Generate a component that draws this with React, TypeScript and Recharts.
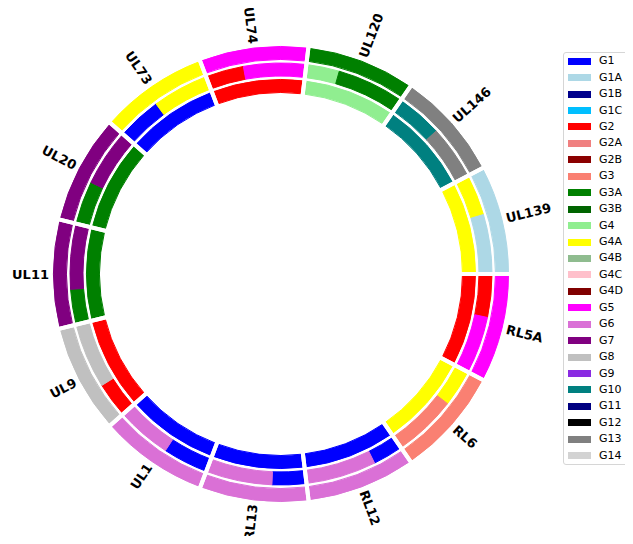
import { PieChart, Pie, Cell } from "recharts";

// segments, clockwise from the UL74/UL120 boundary
const SEGMENTS = ["UL120", "UL146", "UL139", "RL5A", "RL6", "RL12", "RL13", "UL1", "UL9", "UL11", "UL20", "UL73", "UL74"];
const INNER_GROUP = ["G4", "G10", "G4A", "G2", "G4A", "G1", "G1", "G1", "G2", "G3A", "G3A", "G1", "G2"];
const OUTER_GROUP = ["G3A", "G13", "G1A", "G5", "G3", "G6", "G6", "G6", "G8", "G7", "G7", "G4A", "G5"];
// part of the middle ring in the inner group, the rest is the outer group
const MIDDLE_SHARE = [0.33, 0.46, 0.41, 0.43, 0.37, 0.3, 0.34, 0.45, 0.35, 0.35, 0.43, 0.44, 0.38];

const GROUPS = [
    "G1", "G1A", "G1B", "G1C", "G2", "G2A", "G2B", "G3", "G3A", "G3B", "G4", "G4A", "G4B",
    "G4C", "G4D", "G5", "G6", "G7", "G8", "G9", "G10", "G11", "G12", "G13", "G14",
];
const GROUP_COLORS = [
    "#0000ff", "#add8e6", "#00008b", "#00bfff", "#ff0000", "#f08080", "#8b0000", "#fa8072", "#008000",
    "#006400", "#90ee90", "#ffff00", "#8fbc8f", "#ffc0cb", "#800000", "#ff00ff", "#da70d6", "#800080",
    "#c0c0c0", "#8a2be2", "#008080", "#000080", "#000000", "#808080", "#d3d3d3",
];

const colorOf = (g: string) => GROUP_COLORS[GROUPS.indexOf(g)];

const START = 83.1;
const CX = 281;
const CY = 274;
const LABEL_R = 232; // labels start just outside the outer ring
const RADIAN = Math.PI / 180;

const innerData = SEGMENTS.map((name, i) => ({ name, group: INNER_GROUP[i], value: 1 }));
const outerData = SEGMENTS.map((name, i) => ({ name, group: OUTER_GROUP[i], value: 1 }));
const middleData = SEGMENTS.flatMap((name, i) => [
    { name, group: INNER_GROUP[i], value: MIDDLE_SHARE[i] },
    { name, group: OUTER_GROUP[i], value: 1 - MIDDLE_SHARE[i] },
]);
const segmentData = SEGMENTS.map(name => ({ name, value: 1 }));

// radial labels, flipped on the left half so they never read upside down
function renderLabel(props: any) {
    const { midAngle, index } = props;
    const a = ((midAngle % 360) + 540) % 360 - 180;
    const x = CX + LABEL_R * Math.cos(-a * RADIAN);
    const y = CY + LABEL_R * Math.sin(-a * RADIAN);
    const flip = a > 90 || a < -90;
    const textAngle = flip ? (a > 0 ? a - 180 : a + 180) : a;
    return (
        <text
            key={`label-${index}`}
            x={x}
            y={y}
            textAnchor={flip ? "end" : "start"}
            dominantBaseline="central"
            transform={`rotate(${-textAngle}, ${x}, ${y})`}
            fontFamily="DejaVu Sans"
            fontWeight="bold"
            fontSize={13}
            fill="#000"
        >
            {SEGMENTS[index]}
        </text>
    );
}

export default function App() {
    const ring = (data: { name: string; group: string; value: number }[], inner: number, outer: number, key: string) => (
        <Pie
            key={key}
            data={data}
            dataKey="value"
            cx={CX}
            cy={CY}
            innerRadius={inner}
            outerRadius={outer}
            startAngle={START}
            endAngle={START - 360}
            strokeWidth={1}
            isAnimationActive={false}
        >
            {data.map((d, i) => (
                <Cell key={`${key}-${i}`} fill={colorOf(d.group)} stroke={colorOf(d.group)} />
            ))}
        </Pie>
    );

    return (
        <div style={{ position: "relative", width: 633, height: 544, margin: -8, background: "#fff" }}>
            <PieChart width={633} height={544} margin={{ top: 0, right: 0, bottom: 0, left: 0 }}>
                {ring(innerData, 181.5, 194.5, "inner")}
                {ring(middleData, 198, 211, "middle")}
                {ring(outerData, 214.5, 227.5, "outer")}
                {/* white borders between segments */}
                <Pie
                    data={segmentData}
                    dataKey="value"
                    cx={CX}
                    cy={CY}
                    innerRadius={176}
                    outerRadius={232}
                    startAngle={START}
                    endAngle={START - 360}
                    stroke="#fff"
                    strokeWidth={4}
                    label={renderLabel}
                    labelLine={false}
                    isAnimationActive={false}
                >
                    {segmentData.map((d, i) => (
                        <Cell key={`seg-${i}`} fill="none" stroke="#fff" />
                    ))}
                </Pie>
            </PieChart>
            <div
                style={{
                    position: "absolute",
                    left: 563,
                    top: 52,
                    width: 64,
                    height: 411,
                    border: "1px solid #d6d6d6",
                    borderRadius: 3,
                    background: "#fff",
                    fontFamily: "DejaVu Sans",
                    fontSize: 11,
                    color: "#000",
                }}
            >
                {GROUPS.map((g, i) => (
                    <div key={g} style={{ display: "flex", alignItems: "center", height: 16.45 }}>
                        <span style={{ display: "inline-block", marginLeft: 4, width: 23, height: 7, background: GROUP_COLORS[i] }} />
                        <span style={{ marginLeft: 8, lineHeight: "12px" }}>{g}</span>
                    </div>
                ))}
            </div>
        </div>
    );
}
